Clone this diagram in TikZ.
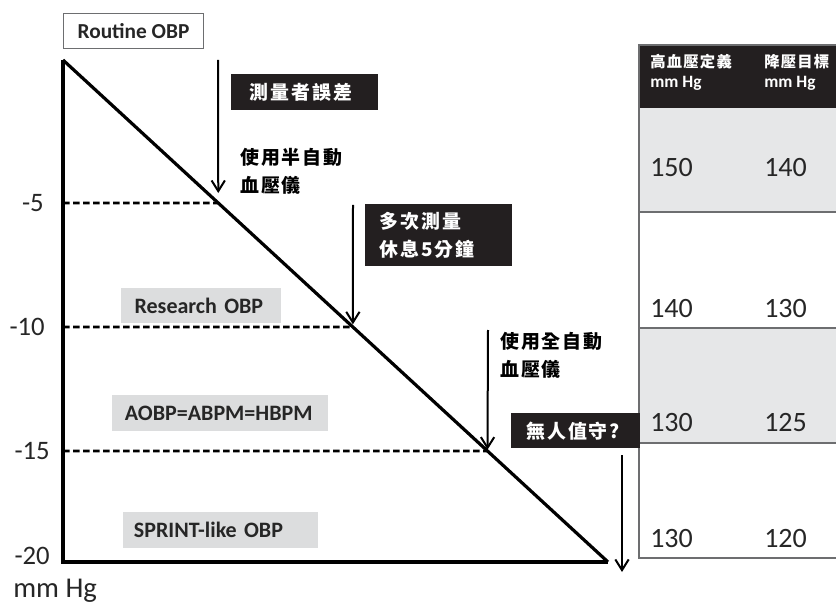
\documentclass[tikz,border=0pt]{standalone}
\usepackage{fontspec}
\setmainfont{Carlito}
\newfontfamily\cjk{Noto Sans CJK TC}[LetterSpace=10]
\newfontfamily\cjkh{Noto Sans CJK TC}[LetterSpace=8]
\usetikzlibrary{arrows.meta}
\definecolor{labgray}{HTML}{DCDDDE}
\definecolor{rowgray}{HTML}{E6E7E8}
\definecolor{linegray}{HTML}{6D6E70}
\definecolor{boxblack}{HTML}{231F20}
\tikzset{
  axislab/.style={anchor=east,font=\fontsize{20}{24}\selectfont,inner sep=0pt,text=black!85},
  graylab/.style={fill=labgray,anchor=north west,inner sep=0pt,font=\fontsize{16.5}{20}\selectfont\bfseries,text=black!85},
  blackbox/.style={fill=boxblack,text=white,anchor=north west,inner sep=0pt,align=left,font=\fontsize{14.2}{21}\selectfont\cjk\bfseries},
  cjktext/.style={anchor=north west,inner sep=0pt,align=left,font=\fontsize{14.2}{21}\selectfont\cjk\bfseries},
  numlab/.style={anchor=base west,inner sep=0pt,font=\fontsize{21}{25}\selectfont,text=black!85},
  headcjk/.style={anchor=base west,inner sep=0pt,text=white,font=\fontsize{11.5}{14}\selectfont\cjkh\bfseries},
  headmm/.style={anchor=base west,inner sep=0pt,text=white,font=\fontsize{13}{15}\selectfont\bfseries},
  thick line/.style={line width=2.4pt},
  dashline/.style={line width=2pt,dash pattern=on 5pt off 2.5pt},
  downarrow/.style={line width=1.5pt,-{Straight Barb[length=8pt,width=10pt,line width=1.5pt]}},
}
\begin{document}
\begin{tikzpicture}[x=0.75pt,y=-0.75pt]
\useasboundingbox (0,0) rectangle (836,606);
% table
\fill[boxblack] (639,45) rectangle (836,108);
\fill[rowgray] (639,108) rectangle (836,212);
\fill[rowgray] (639,328) rectangle (836,443);
\draw[linegray,line width=0.9pt] (836,45) -- (639,45) -- (639,558) -- (836,558);
\foreach \yy in {212,328,443} \draw[linegray,line width=0.9pt] (639,\yy) -- (836,\yy);
\node[headcjk] (h1) at (650,68) {高血壓定義};
\node[headmm] (h1m) at (650,88) {mm Hg};
\node[headcjk] (h2) at (764,68) {降壓目標};
\node[headmm] (h2m) at (764,88) {mm Hg};
\node[numlab] (r1a) at (650,177) {150};
\node[numlab] (r1b) at (764,177) {140};
\node[numlab] (r2a) at (650,317) {140};
\node[numlab] (r2b) at (764,317) {130};
\node[numlab] (r3a) at (650,431) {130};
\node[numlab] (r3b) at (764,431) {125};
\node[numlab] (r4a) at (650,547) {130};
\node[numlab] (r4b) at (764,547) {120};
% triangle
\coordinate (top) at (63,60);
\coordinate (bl) at (63,562);
\coordinate (br) at (608,562);
\draw[thick line,line join=miter] (top) -- (bl) -- (br);
\draw[thick line] (top) -- (br);
% dashed levels
\coordinate (d5) at (63,203);
\coordinate (d10) at (63,327);
\coordinate (d15) at (63,451);
\path (top) -- (br) coordinate[pos=0.2849] (i5) coordinate[pos=0.5319] (i10) coordinate[pos=0.7789] (i15);
\draw[dashline] (d5) -- (i5);
\draw[dashline] (d10) -- (i10);
\draw[dashline] (d15) -- (i15);
% axis labels
\node[axislab] (l5) at (44,203) {-5};
\node[axislab] (l10) at (45,327) {-10};
\node[axislab] (l15) at (50,451) {-15};
\node[axislab] (l20) at (50,556) {-20};
\node[anchor=base west,inner sep=0pt,font=\fontsize{21.5}{26}\selectfont,text=black!85] (unit) at (13,597) {mm Hg};
% routine box
\node[draw=linegray,line width=0.8pt,minimum width=105pt,minimum height=26.25pt,inner sep=0pt,anchor=north west,font=\fontsize{16}{18}\selectfont\bfseries,text=black!85] (routine) at (63,13) {Routine OBP\hspace{3pt}};
% gray labels
\node[graylab,minimum width=120pt,minimum height=26.25pt,text width=112pt] (res) at (121,288) {\hspace{6pt}Research OBP};
\node[graylab,minimum width=162pt,minimum height=27pt,text width=155pt] (aobp) at (112,395) {\hspace{6pt}AOBP=ABPM=HBPM};
\node[graylab,minimum width=146pt,minimum height=27pt,text width=140pt] (sprint) at (123,512) {\hspace{5pt}SPRINT-like OBP};
% black boxes
\node[blackbox,minimum width=110pt,minimum height=27pt,text width=100pt] (b1) at (231,74) {\hspace{9pt}測量者誤差};
\node[blackbox,minimum width=110pt,minimum height=46.5pt,text width=102pt] (b2) at (365,204) {\hspace{7pt}多次測量\\\hspace{7pt}休息5分鐘};
\node[blackbox,minimum width=96.75pt,minimum height=26.25pt,text width=92pt] (b3) at (511,413) {\hspace{9pt}無人值守?};
% plain texts
\node[cjktext] (t1) at (240,148) {使用半自動\\血壓儀};
\node[cjktext] (t2) at (500,332) {使用全自動\\血壓儀};
% arrows
\coordinate (a1s) at (218,60);
\coordinate (a2s) at (353,205);
\coordinate (a3s) at (488,330);
\coordinate (a4s) at (622,455);
\coordinate (a4e) at (622,572);
\draw[downarrow] (a1s) -- ([yshift=7.5pt]i5);
\draw[downarrow] (a2s) -- ([yshift=2pt]i10);
\draw[downarrow] (a3s) -- ([yshift=1pt]i15);
\draw[downarrow] (a4s) -- (a4e);
\end{tikzpicture}
\end{document}
